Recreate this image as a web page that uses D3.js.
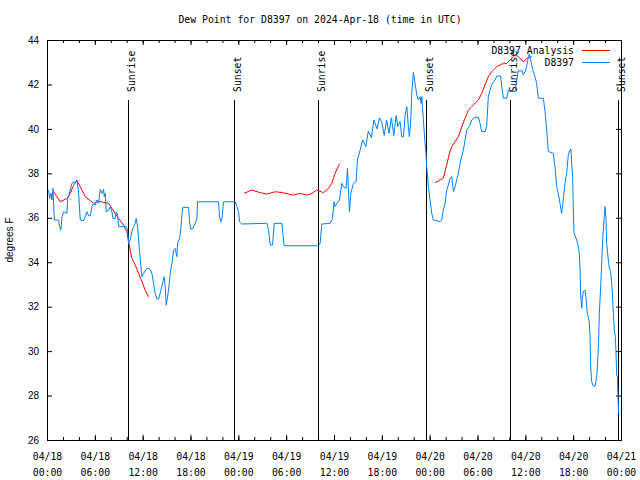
<!DOCTYPE html>
<html>
<head>
<meta charset="utf-8">
<script src="https://cdn.jsdelivr.net/npm/d3@7"></script>
<style>
body { margin: 0; background: #fff; }
svg { display: block; }
.mono { font-family: "DejaVu Sans Mono", "Liberation Mono", monospace; font-size: 9.8px; }
.sans { font-family: "Liberation Sans", Arial, sans-serif; font-size: 10px; }
</style>
</head>
<body>
<svg id="chart" width="640" height="480"></svg>
<script>
// hours after 2024-04-18 00:00 UTC, dew point in degrees F
const obsHours = [0.20,0.33,0.50,0.62,0.75,0.92,1.46,1.58,1.75,1.88,2.09,2.50,2.59,2.71,3.13,3.55,3.76,3.97,4.17,4.59,
	4.80,5.01,5.22,5.43,5.64,5.85,6.05,6.26,6.47,6.68,6.89,7.10,7.18,7.31,7.43,7.73,7.94,8.14,8.27,8.56,
	8.69,8.86,8.98,9.94,10.11,10.23,10.44,10.65,10.86,11.07,11.19,11.36,11.49,11.70,11.91,12.11,12.53,12.87,13.16,13.37,
	13.58,13.79,14.00,14.29,14.54,14.70,14.83,14.96,15.12,15.29,15.46,15.67,15.88,16.08,16.29,16.38,16.63,16.79,16.92,17.04,
	17.76,17.88,18.05,18.30,18.59,18.80,18.88,21.52,21.64,21.81,21.94,22.14,23.61,23.82,24.03,24.15,24.44,27.58,27.79,28.00,
	28.29,28.50,29.46,29.75,34.05,34.26,34.47,35.51,35.81,36.01,36.14,36.35,36.68,36.98,37.19,37.52,37.69,37.81,37.94,38.11,
	38.44,38.77,38.94,39.28,39.6,40.0,40.3,40.7,41.0,41.4,41.7,42.0,42.3,42.6,42.9,43.2,43.5,43.8,44.0,44.29,
	44.50,44.71,44.92,45.13,45.33,45.46,45.63,45.75,45.96,46.17,46.38,46.59,46.80,46.92,47.01,47.21,47.42,47.55,47.63,47.84,
	48.05,48.26,48.47,49.30,49.51,49.72,49.93,50.14,50.35,50.56,50.77,50.98,51.19,51.39,51.60,51.81,52.23,52.44,52.65,53.06,
	53.27,53.69,54.11,54.32,54.53,54.95,55.15,55.36,55.57,55.78,56.20,56.41,56.91,57.04,57.25,57.66,57.87,58.08,58.71,58.92,
	59.13,59.33,59.54,59.75,59.96,60.17,60.38,60.50,60.67,60.80,61.00,61.21,61.42,61.63,62.26,62.47,62.68,62.89,63.51,63.72,
	63.93,64.14,64.35,64.55,64.76,64.97,65.18,65.39,65.60,65.72,65.81,65.93,66.02,66.10,66.44,66.65,66.77,66.86,66.94,67.07,
	67.15,67.27,67.48,67.60,67.77,68.02,68.11,68.19,68.32,68.53,68.74,68.95,69.07,69.20,69.28,69.45,69.58,69.70,69.87,70.00,
	70.12,70.20,70.41,70.54,70.70,70.87,71.04,71.16,71.29,71.37,71.46,71.54,71.62,71.70];
const obsValues = [37.25,36.87,37.10,36.80,37.32,35.90,35.90,35.60,35.45,36.05,36.27,36.20,36.87,36.95,37.55,37.62,37.70,37.10,35.90,35.87,
	36.05,36.27,36.09,36.09,36.50,36.65,36.57,36.80,36.65,37.28,37.10,37.28,36.95,37.10,36.27,36.35,36.50,36.27,35.97,35.97,
	36.27,36.12,35.60,35.60,35.45,34.85,35.00,35.37,35.60,35.75,35.97,35.60,35.00,34.10,33.35,33.50,33.72,33.72,33.50,33.05,
	32.59,32.34,32.34,32.74,33.12,33.35,32.89,32.07,32.44,32.89,33.50,33.95,34.55,34.62,34.25,34.85,35.07,35.52,36.12,36.47,
	36.47,35.82,35.48,35.52,35.75,35.97,36.72,36.72,36.05,35.82,35.97,36.72,36.72,36.50,36.27,35.82,35.72,35.75,35.45,34.77,
	34.77,35.75,35.75,34.74,34.74,34.85,35.72,35.75,35.97,36.72,36.50,36.65,36.80,37.55,37.40,37.32,38.22,37.25,36.27,37.10,
	37.55,37.62,38.60,39.05,39.5,39.2,39.9,39.6,40.4,40.0,40.5,40.3,39.7,40.4,39.8,40.5,39.7,40.6,40.1,40.33,
	39.65,39.65,40.63,41.00,40.10,39.65,40.40,41.60,42.55,42.05,41.53,41.30,41.45,41.15,41.45,40.40,39.35,38.83,38.30,37.40,
	36.80,36.20,35.90,35.83,35.90,36.35,36.65,37.25,37.48,37.78,37.85,37.18,37.40,37.70,38.00,38.45,39.05,39.50,39.95,40.18,
	40.40,40.52,40.52,40.25,39.88,39.88,40.10,41.45,41.75,41.98,42.20,42.38,42.38,41.90,41.38,41.38,41.75,41.68,41.68,42.20,
	42.65,42.58,42.65,42.43,42.58,42.80,43.25,43.37,43.10,42.88,42.58,42.35,42.05,41.38,41.38,40.78,39.95,38.98,38.90,38.30,
	37.40,37.10,36.65,36.20,36.80,37.55,38.00,38.83,39.05,39.08,38.45,37.85,36.35,35.33,35.00,34.70,34.40,33.73,32.52,31.93,
	32.37,32.68,32.75,32.45,31.70,31.32,30.72,29.37,28.62,28.43,28.43,28.85,29.52,30.50,31.70,32.90,34.03,35.00,35.90,36.50,
	35.97,34.85,34.10,33.73,33.57,32.90,31.70,30.95,30.65,29.97,28.92,28.85,27.95,27.20];

// analysis series, null marks a gap
const anaHours = [0.83,1.67,2.50,2.92,3.34,3.76,4.17,4.80,5.43,5.85,6.47,7.10,7.73,8.14,8.56,8.98,9.61,10.02,10.23,10.44,
	10.65,11.07,11.49,11.91,12.32,12.74,18.0,
	24.73,25.69,26.74,27.58,28.62,29.46,30.29,30.92,31.75,32.59,33.22,33.84,34.68,35.30,35.72,36.14,36.68,42.0,
	48.68,49.30,49.72,50.14,50.47,50.77,51.19,51.60,52.02,52.44,52.86,53.27,53.69,54.11,54.53,54.95,55.36,55.78,56.41,57.04,
	57.66,58.08,58.50,58.71,59.13,59.54,59.83,60.17,60.80];
const anaValues = [37.17,36.72,36.87,37.10,37.47,37.67,37.40,36.95,36.77,36.65,36.75,36.69,36.65,36.42,36.20,35.97,35.67,35.37,34.92,34.55,
	34.17,33.87,33.50,33.12,32.74,32.44,null,
	37.10,37.25,37.13,37.07,37.17,37.14,37.07,37.02,37.10,37.02,37.10,37.25,37.13,37.32,37.55,38.00,38.42,null,
	37.58,37.70,37.78,38.38,38.90,39.20,39.43,39.65,40.10,40.48,40.85,41.00,41.15,41.30,41.60,41.98,42.35,42.58,42.80,42.92,
	42.95,43.10,43.25,43.33,43.25,43.10,43.02,43.18,43.25];

const sunHours = [10.10, 23.51, 34.04, 47.59, 58.12, 71.66];
const sunLabels = ["Sunrise", "Sunset", "Sunrise", "Sunset", "Sunrise", "Sunset"];

const yTickValues = [26, 28, 30, 32, 34, 36, 38, 40, 42, 44];
const titleText = "Dew Point for D8397 on 2024-Apr-18 (time in UTC)";
const seriesNames = ["D8397 Analysis", "D8397"];
const seriesColors = ["#ff0000", "#0080ff"];

const startMs = Date.UTC(2024, 3, 18);
const toDate = (h) => new Date(startMs + h * 3600 * 1000);

const margin = {top: 40, right: 19, bottom: 40, left: 47};
const width = 640 - margin.left - margin.right;
const height = 480 - margin.top - margin.bottom;

const svg = d3.select("#chart");
const g = svg.append("g").attr("transform", `translate(${margin.left},${margin.top})`);

const x = d3.scaleUtc().domain([toDate(0), toDate(72)]).range([0, width]);
const y = d3.scaleLinear().domain([26, 44]).range([height, 0]);

// title and y label
svg.append("text").attr("class", "mono")
	.attr("x", 320).attr("y", 23).attr("text-anchor", "middle")
	.text(titleText);
svg.append("text").attr("class", "sans")
	.attr("transform", `translate(13,${margin.top + height / 2}) rotate(-90)`)
	.attr("text-anchor", "middle")
	.text("degrees F");

// minor x ticks every 2 hours, bottom and top
const minorTicks = d3.utcHour.every(2).range(toDate(0), toDate(72.1));
const majorTicks = d3.utcHour.every(6).range(toDate(0), toDate(72.1));

g.append("g").attr("transform", `translate(0,${height})`)
	.call(d3.axisBottom(x).tickValues(minorTicks).tickSize(-3).tickFormat(""))
	.call(s => s.select(".domain").remove());
g.append("g")
	.call(d3.axisTop(x).tickValues(minorTicks).tickSize(-3).tickFormat(""))
	.call(s => s.select(".domain").remove());

const fmtDay = d3.utcFormat("%m/%d");
const fmtTime = d3.utcFormat("%H:%M");
const xAxis = g.append("g").attr("transform", `translate(0,${height})`)
	.call(d3.axisBottom(x).tickValues(majorTicks).tickSize(-5).tickPadding(13).tickFormat(fmtDay));
xAxis.select(".domain").remove();
xAxis.selectAll(".tick text")
	.attr("class", "mono")
	.attr("font-family", null).attr("font-size", null)
	.each(function(d) {
		const t = d3.select(this);
		t.append("tspan").attr("x", 0).attr("dy", "1.6em").text(fmtTime(d));
	});
g.append("g")
	.call(d3.axisTop(x).tickValues(majorTicks).tickSize(-5).tickFormat(""))
	.call(s => s.select(".domain").remove());

// y axis, left with labels, right mirrored
const yAxis = g.append("g")
	.call(d3.axisLeft(y).tickValues(yTickValues).tickSize(-5).tickPadding(8));
yAxis.select(".domain").remove();
yAxis.selectAll(".tick text").attr("class", "sans").attr("font-family", null).attr("font-size", null);
g.append("g").attr("transform", `translate(${width},0)`)
	.call(d3.axisRight(y).tickValues(yTickValues).tickSize(-5).tickFormat(""))
	.call(s => s.select(".domain").remove());

// sunrise / sunset markers
const sun = g.append("g");
sunHours.forEach((h, i) => {
	const sx = Math.round(x(toDate(h))) + 0.5;
	sun.append("line")
		.attr("x1", sx).attr("x2", sx)
		.attr("y1", y(26)).attr("y2", y(26 + 18 * 0.85))
		.attr("stroke", "#000").attr("stroke-width", 1);
	sun.append("text").attr("class", "mono")
		.attr("transform", `translate(${sx + 3},${y(26 + 18 * 0.87)}) rotate(-90)`)
		.attr("text-anchor", "start")
		.attr("dominant-baseline", "central")
		.text(sunLabels[i]);
});

// data lines
const line = d3.line()
	.defined((d) => d[1] !== null)
	.x((d) => x(toDate(d[0])))
	.y((d) => y(d[1]));

const anaData = anaHours.map((h, i) => [h, anaValues[i]]);
const obsData = obsHours.map((h, i) => [h, obsValues[i]]);

g.append("path").datum(anaData)
	.attr("fill", "none").attr("stroke", seriesColors[0]).attr("stroke-width", 1)
	.attr("d", line);
g.append("path").datum(obsData)
	.attr("fill", "none").attr("stroke", seriesColors[1]).attr("stroke-width", 1)
	.attr("d", line);

// border
g.append("rect").attr("x", 0.5).attr("y", 0.5).attr("width", width).attr("height", height)
	.attr("fill", "none").attr("stroke", "#000").attr("stroke-width", 1);

// legend
const legend = svg.append("g");
seriesNames.forEach((name, i) => {
	const ly = 50 + i * 12;
	legend.append("text").attr("class", "mono")
		.attr("x", 574).attr("y", ly).attr("text-anchor", "end")
		.attr("dominant-baseline", "central")
		.text(name);
	legend.append("line")
		.attr("x1", 582).attr("x2", 610).attr("y1", ly + 0.5).attr("y2", ly + 0.5)
		.attr("stroke", seriesColors[i]).attr("stroke-width", 1);
});
</script>
</body>
</html>
